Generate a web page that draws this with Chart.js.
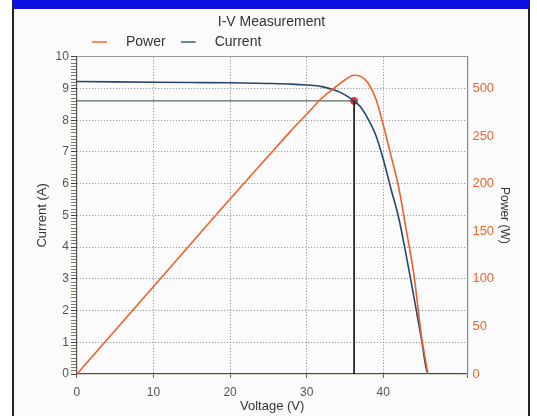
<!DOCTYPE html>
<html>
<head>
<meta charset="utf-8">
<script src="https://cdn.jsdelivr.net/npm/chart.js@4.4.1/dist/chart.umd.min.js"></script>
<style>
  html, body { margin: 0; padding: 0; background: #ffffff; }
  #frame {
    position: absolute; left: 12px; top: 0; width: 518px; height: 416px;
    background: #fbfbfb;
    border-top: 9px solid #0b0fe0;
    border-left: 2px solid #222;
    border-right: 2px solid #222;
    box-sizing: border-box;
  }
  #ivChart { position: absolute; left: 0; top: 0; }
</style>
</head>
<body>
<div id="frame"></div>
<canvas id="ivChart" width="537" height="416"></canvas>
<script>
// values
var voltage = [0, 5, 10, 15, 20, 25, 28, 30, 32, 34, 35, 36.2, 37, 38, 39, 40, 41, 42, 43, 44, 45, 45.85, 50];
var current = [9.22, 9.21, 9.2, 9.19, 9.18, 9.16, 9.14, 9.11, 9.06, 8.92, 8.8, 8.61, 8.43, 8.05, 7.55, 6.78, 5.85, 4.95, 3.75, 2.45, 1.1, 0, 0];
var power = [0, 46, 92, 138, 184, 229, 256, 273, 290, 303, 309, 314, 313, 306, 290, 262, 230, 197, 152, 105, 40, 0, null];

// maximum power point
var mppVoltage = 36.2;
var mppCurrent = 8.61;

// labels on the right axis, as printed
var powerTickLabels = ['0', '50', '100', '150', '200', '250', '500'];

var currentPoints = [];
var powerPoints = [];
for (var i in voltage) {
    currentPoints.push({x: voltage[i], y: current[i]});
    powerPoints.push({x: voltage[i], y: power[i]});
}

var font = "'Liberation Sans', Arial, sans-serif";
Chart.defaults.font.family = font;
Chart.defaults.color = '#444';

function isWhole(v) {
    return Math.abs(v - Math.round(v)) < 1e-6;
}

// short legend line with empty space after it, so the text sits further right
function legendLine(color) {
    var c = document.createElement('canvas');
    c.width = 27;
    c.height = 3;
    var g = c.getContext('2d');
    g.fillStyle = color;
    g.fillRect(0, 1, 15, 1.6);
    return c;
}

new Chart(document.getElementById('ivChart'), {
    type: 'line',
    data: {
        datasets: [{
            label: 'Power',
            data: powerPoints,
            yAxisID: 'y1',
            borderColor: '#f0602a',
            backgroundColor: '#f0602a',
            borderWidth: 1.6,
            pointRadius: 0,
            pointStyle: legendLine('#f0602a'),
            cubicInterpolationMode: 'monotone',
            spanGaps: false
        }, {
            label: 'Current',
            data: currentPoints,
            yAxisID: 'y',
            borderColor: '#26466e',
            backgroundColor: '#26466e',
            borderWidth: 1.6,
            pointRadius: 0,
            pointStyle: legendLine('#2e5a6a'),
            cubicInterpolationMode: 'monotone'
        }, {
            label: 'mpp-h',
            data: [{x: 0, y: mppCurrent}, {x: mppVoltage, y: mppCurrent}],
            yAxisID: 'y',
            borderColor: '#2f4a35',
            borderWidth: 1,
            pointRadius: 0
        }, {
            label: 'mpp-v',
            data: [{x: mppVoltage, y: mppCurrent}, {x: mppVoltage, y: 0}],
            yAxisID: 'y',
            borderColor: '#1e1e1e',
            borderWidth: 1,
            pointRadius: 0
        }, {
            label: 'mpp',
            data: [{x: mppVoltage, y: mppCurrent}],
            yAxisID: 'y',
            borderColor: '#e8352a',
            backgroundColor: '#e8352a',
            pointRadius: 3.5,
            showLine: false
        }]
    },
    options: {
        responsive: false,
        animation: false,
        layout: { padding: { left: 31, right: 25, top: 8, bottom: 2 } },
        plugins: {
            title: {
                display: true,
                text: 'I-V Measurement',
                color: '#333',
                font: { size: 14, weight: 'normal' },
                padding: { top: 6, bottom: -11 }
            },
            legend: {
                align: 'start',
                fullSize: false,
                maxHeight: 29,
                labels: {
                    usePointStyle: true,
                    pointStyleWidth: 27,
                    color: '#333',
                    font: { size: 14 },
                    padding: 15,
                    filter: function(item) {
                        return item.text == 'Power' || item.text == 'Current';
                    }
                }
            },
            tooltip: { enabled: false }
        },
        scales: {
            x: {
                type: 'linear',
                min: 0,
                max: 51,
                ticks: {
                    stepSize: 10,
                    color: '#555',
                    font: { size: 12 },
                    padding: 7,
                    callback: function(v) { return v % 10 == 0 ? v : ''; }
                },
                grid: {
                    color: function(ctx) {
                        if (!ctx.tick) return 'transparent';
                        var v = ctx.tick.value;
                        return v > 0 && v % 10 == 0 ? '#888' : 'transparent';
                    },
                    tickColor: '#666',
                    tickLength: 4
                },
                border: { color: '#55552a', width: 1.2, dash: [1, 2] },
                title: { display: true, text: 'Voltage (V)', color: '#333', font: { size: 13 }, padding: { top: -8, bottom: 0 } }
            },
            xTop: {
                type: 'linear',
                position: 'top',
                min: 0,
                max: 51,
                ticks: { display: false },
                grid: { display: false },
                border: { color: '#999', width: 1 }
            },
            y: {
                position: 'left',
                min: 0,
                max: 10,
                ticks: {
                    stepSize: 0.1,
                    autoSkip: false,
                    maxTicksLimit: 200,
                    color: '#555',
                    font: { size: 12 },
                    padding: 2,
                    callback: function(v) { return isWhole(v) ? Math.round(v) : ''; }
                },
                grid: {
                    color: function(ctx) {
                        if (!ctx.tick) return 'transparent';
                        var v = ctx.tick.value;
                        return isWhole(v) && v > 0 ? '#888' : 'transparent';
                    },
                    tickColor: function(ctx) {
                        return ctx.tick && isWhole(ctx.tick.value) ? '#444' : '#7a7a5a';
                    },
                    tickLength: 6
                },
                border: { color: '#555', width: 1.2, dash: [1, 2] },
                title: { display: true, text: 'Current (A)', color: '#333', font: { size: 13 }, padding: { bottom: 3 } }
            },
            y1: {
                position: 'right',
                min: 0,
                max: 333.33,
                ticks: {
                    stepSize: 50,
                    color: '#f0642a',
                    font: { size: 13 },
                    padding: 5,
                    callback: function(v, idx) { return powerTickLabels[idx]; }
                },
                grid: { drawOnChartArea: false, drawTicks: false },
                border: { color: '#888', width: 1.2 },
                title: { display: true, text: 'Power (W)', color: '#333', font: { size: 12 }, padding: { top: 0, bottom: -1.5 } }
            }
        }
    }
});
</script>
</body>
</html>
